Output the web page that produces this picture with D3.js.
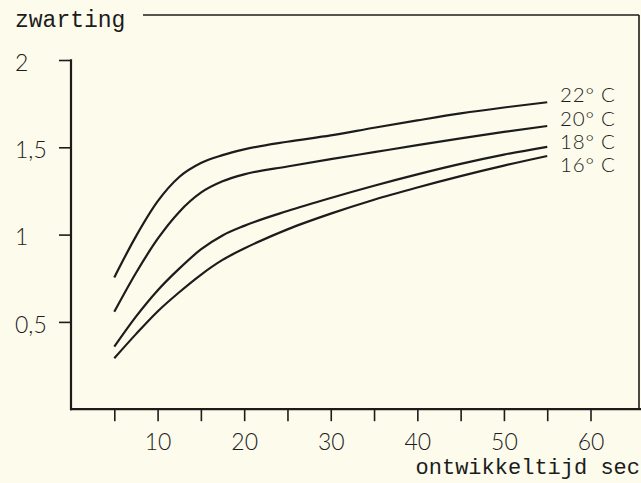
<!DOCTYPE html>
<html>
<head>
<meta charset="utf-8">
<script src="https://cdn.jsdelivr.net/npm/d3@7"></script>
<style>
  html, body { margin: 0; padding: 0; background: #fcfbec; }
  svg { display: block; }
</style>
</head>
<body>
<svg id="chart" width="641" height="483"></svg>
<script>
// ---- data ----
const seriesNames = ["22° C", "20° C", "18° C", "16° C"];
const times    = [5, 7.5, 10, 12.5, 15, 17.5, 20, 25, 30, 35, 40, 45, 50, 55];
const values22 = [0.755, 0.990, 1.190, 1.330, 1.410, 1.455, 1.488, 1.532, 1.568, 1.612, 1.654, 1.694, 1.728, 1.758];
const values20 = [0.558, 0.780, 0.975, 1.130, 1.240, 1.305, 1.345, 1.390, 1.432, 1.472, 1.512, 1.551, 1.588, 1.622];
const values18 = [0.358, 0.530, 0.680, 0.805, 0.915, 0.995, 1.050, 1.135, 1.210, 1.280, 1.345, 1.405, 1.458, 1.503];
const values16 = [0.292, 0.430, 0.560, 0.670, 0.770, 0.855, 0.920, 1.030, 1.120, 1.200, 1.270, 1.335, 1.395, 1.450];
const xTicks = [5, 10, 15, 20, 25, 30, 35, 40, 45, 50, 55, 60];
const yTicks = [0.5, 1, 1.5, 2];
const yTickLabels = ["0,5", "1", "1,5", "2"];
const yTitle = "zwarting";
const xTitle = "ontwikkeltijd sec";

const allValues = [values22, values20, values18, values16];

// ---- setup ----
const svg = d3.select("#chart");
const ink = "#1c1c1c";
const numFont = "Lato, 'Open Sans', sans-serif";
const typeFont = "'Liberation Mono', 'DejaVu Sans Mono', monospace";

const x = d3.scaleLinear().domain([0, 65.6]).range([71, 639]);
const y = d3.scaleLinear().domain([0, 2]).range([409.2, 60]);

// frame: top border, right border
svg.append("line").attr("x1", 143).attr("x2", x.range()[1]).attr("y1", 15).attr("y2", 15)
  .attr("stroke", ink).attr("stroke-width", 1.6);
svg.append("line").attr("x1", x.range()[1]).attr("x2", x.range()[1]).attr("y1", 15).attr("y2", y(0))
  .attr("stroke", ink).attr("stroke-width", 1.6);

// x axis
const xAxis = d3.axisBottom(x).tickValues(xTicks).tickSize(12)
  .tickFormat(d => d % 10 === 0 ? d : "");
const gx = svg.append("g").attr("transform", `translate(0,${y(0)})`).call(xAxis);
gx.select(".domain").remove();
gx.selectAll(".tick line").attr("stroke", ink).attr("stroke-width", 1.6);
gx.selectAll(".tick text").attr("y", 41).attr("dy", 0)
  .attr("font-family", numFont).attr("font-weight", 300).attr("font-size", 23).attr("fill", ink);
svg.append("line").attr("x1", x(0) - 1).attr("x2", 641).attr("y1", y(0)).attr("y2", y(0))
  .attr("stroke", ink).attr("stroke-width", 2.2);

// y axis
const yAxis = d3.axisLeft(y).tickValues(yTicks).tickSize(12)
  .tickFormat((d, i) => yTickLabels[i]);
const gy = svg.append("g").attr("transform", `translate(${x(0)},0)`).call(yAxis);
gy.select(".domain").remove();
gy.selectAll(".tick line").attr("stroke", ink).attr("stroke-width", 1.6);
gy.selectAll(".tick text").attr("x", 15 - x(0)).attr("dy", "0.45em").attr("text-anchor", "start")
  .attr("font-family", numFont).attr("font-weight", 300).attr("font-size", 23).attr("fill", ink);
svg.append("line").attr("x1", x(0)).attr("x2", x(0)).attr("y1", y(2) - 0.8).attr("y2", y(0) + 1)
  .attr("stroke", ink).attr("stroke-width", 2.2);

// titles
svg.append("text").attr("x", 15).attr("y", 27).text(yTitle)
  .attr("font-family", typeFont).attr("font-size", 23).attr("fill", ink);
svg.append("text").attr("x", 640).attr("y", 474).attr("text-anchor", "end").text(xTitle)
  .attr("font-family", typeFont).attr("font-size", 22).attr("fill", ink);

// curves
const line = d3.line().x(d => x(d[0])).y(d => y(d[1])).curve(d3.curveMonotoneX);
allValues.forEach(vals => {
  svg.append("path").datum(times.map((t, i) => [t, vals[i]]))
    .attr("d", line).attr("fill", "none").attr("stroke", ink).attr("stroke-width", 2.2);
});

// end labels, spaced to avoid overlap
let lastY = -Infinity;
allValues.forEach((vals, i) => {
  let ly = Math.max(y(vals[vals.length - 1]), lastY + 23);
  lastY = ly;
  svg.append("text").attr("x", 560).attr("y", ly).text(seriesNames[i])
    .attr("font-family", numFont).attr("font-weight", 300).attr("font-size", 20.5)
    .attr("letter-spacing", 0.8).attr("fill", ink);
});
</script>
</body>
</html>
